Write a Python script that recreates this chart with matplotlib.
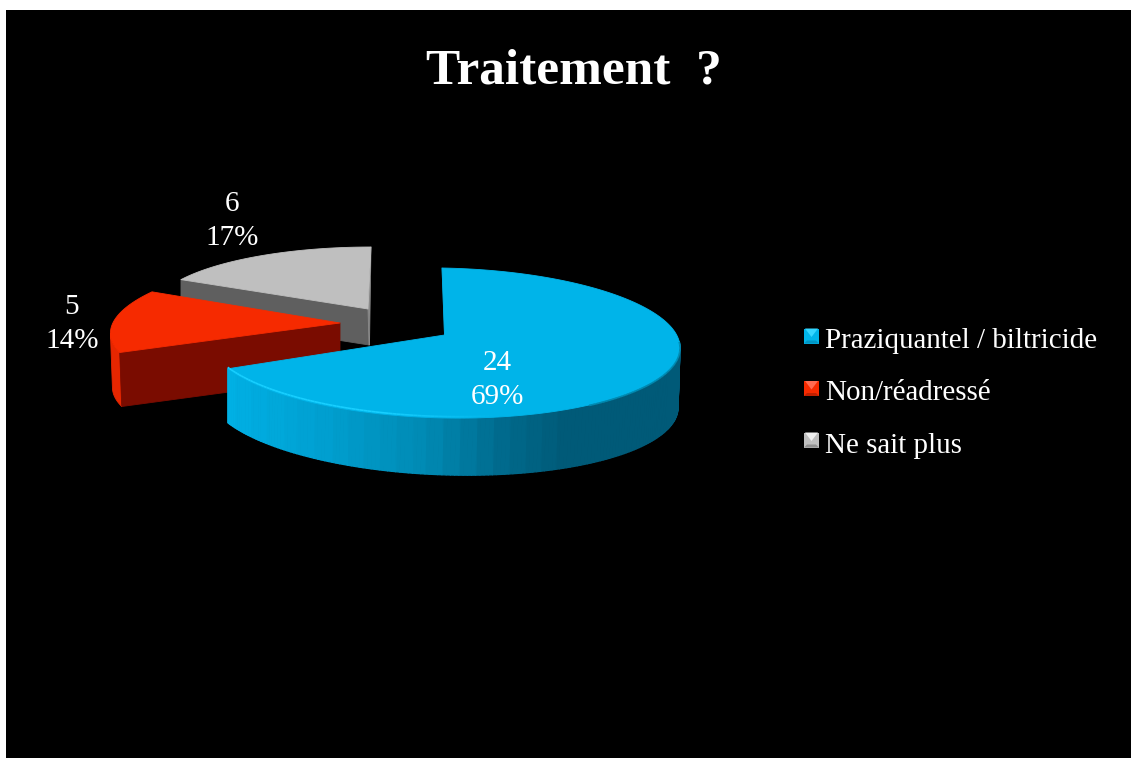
import numpy as np
import matplotlib
matplotlib.use("Agg")
import matplotlib.pyplot as plt
from matplotlib.patches import Polygon, Rectangle
from matplotlib.colors import to_rgb

title = "Traitement  ?"
categories = ["Praziquantel / biltricide", "Non/réadressé", "Ne sait plus"]
counts = [24, 5, 6]
percent_labels = ["69%", "14%", "17%"]

W, H = 1131, 758
SERIF = "Liberation Serif"

# projection of each exploded slice: rim centre, radii, skew, apex, thickness
GEOM = [
    dict(cx=444, cy=343, rx=236, ry=75, kx=-2, my=4, apex=(444.5, 335), depth=56),
    dict(cx=340, cy=325, rx=228, ry=70, kx=27, my=0, apex=(340, 323), depth=54),
    dict(cx=368, cy=309, rx=214, ry=62, kx=3, my=0, apex=(368, 309), depth=36),
]
TOP = ["#00b4e9", "#f62a00", "#bfbfbf"]
WALL = [None, "#7a0c00", "#5f5f5f"]
LABEL_POS = [(497, 380), (72, 324), (232, 221)]

fig = plt.figure(figsize=(W / 100, H / 100), dpi=100, facecolor="white")
ax = fig.add_axes([0, 0, 1, 1])
ax.set_xlim(0, W)
ax.set_ylim(H, 0)
ax.axis("off")
ax.add_patch(Rectangle((6, 10), W, H, fc="black", ec="none", zorder=0))

fractions = np.array(counts) / sum(counts)
edges = np.concatenate([[0], np.cumsum(fractions)]) * 2 * np.pi


def rim(g, a):
    return (g["cx"] + g["rx"] * np.sin(a) + g["kx"] * np.cos(a),
            g["cy"] - g["ry"] * np.cos(a) + g["my"] * np.sin(a))


def lerp(stops, t):
    ts = [s[0] for s in stops]
    cs = np.array([to_rgb(s[1]) for s in stops])
    return tuple(np.interp(t, ts, cs[:, i]) for i in range(3))


def poly(pts, color, z, lw=0.6):
    ax.add_patch(Polygon(pts, closed=True, fc=color, ec=color, lw=lw, zorder=z, joinstyle="round"))


# --- grey slice (back) ---
g = GEOM[2]
a = np.linspace(edges[2], edges[3], 80)
x, y = rim(g, a)
d = g["depth"]
poly([(x[0], y[0]), g["apex"], (g["apex"][0] + 1, g["apex"][1] + d), (x[0], y[0] + d)], WALL[2], 1)
poly([(x[-1], y[-1]), (x[-1] - 1.5, y[-1] + 98), (g["apex"][0] + 1, g["apex"][1] + d), g["apex"]], "#8a8a8a", 1)
poly(list(zip(x, y)) + [g["apex"]], TOP[2], 2)

# --- red slice ---
g = GEOM[1]
a = np.linspace(edges[1], edges[2], 80)
x, y = rim(g, a)
d = g["depth"]
k = int(np.argmin(x)) + 1
side = list(zip(x[:k], y[:k]))
side_low = [(px + 2, py + d) for px, py in side]
poly(side + side_low[::-1], "#e62600", 3)
poly([(x[0], y[0]), g["apex"], (g["apex"][0], g["apex"][1] + d), (x[0] + 2, y[0] + d)], WALL[1], 4)
poly(list(zip(x, y)) + [g["apex"]], TOP[1], 5)

# --- blue slice (front) ---
g = GEOM[0]
a = np.linspace(edges[0], edges[1], 240)
x, y = rim(g, a)
poly([(x[0], y[0]), g["apex"], (g["apex"][0] + 1.5, g["apex"][1]), (x[0] + 1.5, y[0] + 6)], "#005f7d", 6)
shade = [(0.0, "#00b0e4"), (0.18, "#00a2d4"), (0.45, "#0089b2"), (0.62, "#00688a"), (0.75, "#005a78"), (1.0, "#005a78")]
front = np.where(y > g["cy"] - 2)[0]
fx, fy = x[front], y[front]
xmin, xmax = fx.min(), fx.max()
for i in range(len(fx) - 1):
    u0 = (fx[i] - xmin) / (xmax - xmin)
    u1 = (fx[i + 1] - xmin) / (xmax - xmin)
    # stepped shading, as the reference's gradient bands
    t = np.round(u0 * 28) / 28
    d0, d1 = 54 + 6 * u0, 54 + 6 * u1
    poly([(fx[i], fy[i]), (fx[i + 1], fy[i + 1]),
          (fx[i + 1] - 2 * u1, fy[i + 1] + d1), (fx[i] - 2 * u0, fy[i] + d0)],
         lerp(shade, t), 7, lw=0.9)
poly(list(zip(x, y)) + [g["apex"]], TOP[0], 8)
# bevel along the front of the top face, fading towards the right
for i in range(len(fx) - 1):
    u = (fx[i] - xmin) / (xmax - xmin)
    if u < 0.6:
        ax.plot(fx[i:i + 2], fy[i:i + 2] - 1.5, color="#18cfff", lw=1.2, zorder=9,
                alpha=min(1.0, (0.6 - u) / 0.25), solid_capstyle="butt")
    if u > 0.8:
        ax.plot(fx[i:i + 2], fy[i:i + 2] + 0.5, color="#0089b0", lw=1.2, zorder=9,
                solid_capstyle="butt")

# --- data labels ---
for (lx, ly), n_, p in zip(LABEL_POS, counts, percent_labels):
    ax.text(lx, ly, f"{n_}\n{p}", color="white", family=SERIF, fontsize=21, ha="center",
            va="center", linespacing=1.4, zorder=12)

# --- title ---
ax.text(573.5, 83, title, color="white", family=SERIF, fontsize=37, fontweight="bold",
        ha="center", va="baseline", zorder=12)

# --- legend ---
SWATCH_Y = [336, 388.5, 440]
TEXT_Y = [348, 400.5, 453]
LEG_TOP = ["#35d6ff", "#ff6a50", "#f0f0f0"]
LEG_BOT = ["#0096c4", "#c02000", "#909090"]
s = 7.5
for sy, ty, name, c0, c1, c2 in zip(SWATCH_Y, TEXT_Y, categories, TOP, LEG_TOP, LEG_BOT):
    cx = 811.5
    ax.add_patch(Rectangle((cx - s, sy - s), 2 * s, 2 * s, fc=c0, ec="none", zorder=10))
    poly([(cx - s, sy + s), (cx + s, sy + s), (cx + s - 3, sy + s - 3), (cx - s + 3, sy + s - 3)], c2, 11, lw=0)
    poly([(cx - s + 1, sy - s), (cx + s - 1, sy - s), (cx, sy + 1)], c1, 11, lw=0)
    ax.text(825, ty, name, color="white", family=SERIF, fontsize=20.9, ha="left",
            va="baseline", zorder=12)

fig.savefig("out.png", dpi=100, facecolor="white")
